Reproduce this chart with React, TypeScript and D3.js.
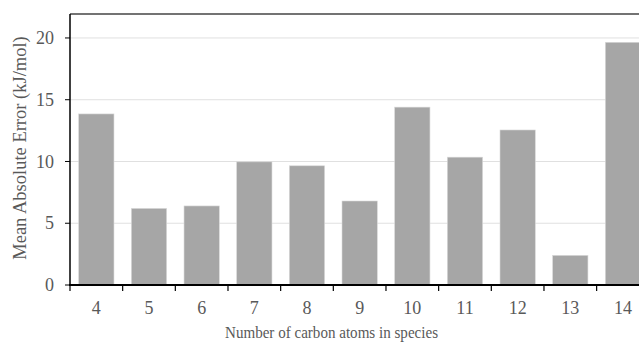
import React from "react";
import * as d3 from "d3";

const categories = ["4", "5", "6", "7", "8", "9", "10", "11", "12", "13", "14"];
const values = [13.85, 6.2, 6.4, 9.97, 9.65, 6.8, 14.4, 10.35, 12.55, 2.4, 19.65];
const yTicks = [0, 5, 10, 15, 20];
const xTitle = "Number of carbon atoms in species";
const yTitle = "Mean Absolute Error (kJ/mol)";

export default function App() {
  const W = 639, H = 342;
  const left = 70, right = 649.3, top = 14, bottom = 285;
  const x = d3.scaleBand<string>().domain(categories).range([left, right]).paddingInner(0.33).paddingOuter(0.165);
  const xb = d3.scaleBand<string>().domain(categories).range([left, right]);
  const y = d3.scaleLinear().domain([0, 21.94]).range([bottom, top]);
  const fontStyle = { fontFamily: "Liberation Serif, Times New Roman, Times, serif" };
  const textColor = "#595959";
  const boundaries = categories.map((c) => xb(c)!).concat([right]);
  return (
    <div style={{ position: "fixed", left: 0, top: 0, width: W, height: H, overflow: "hidden", background: "#fff" }}>
      <svg width={W} height={H} style={{ display: "block", ...fontStyle }}>
        {yTicks.filter((t) => t > 0).map((t) => (
          <line key={"g" + t} x1={left} x2={right} y1={y(t)} y2={y(t)} stroke="#e0e0e0" strokeWidth={1} />
        ))}
        {categories.map((c, i) => (
          <rect key={c} x={x(c)} y={y(values[i])} width={x.bandwidth()} height={bottom - y(values[i])} fill="#a6a6a6" stroke="#d9d9d9" strokeWidth={0.6} />
        ))}
        <line x1={left} x2={right} y1={top} y2={top} stroke="#444" strokeWidth={1.5} />
        <line x1={left} x2={left} y1={top} y2={bottom} stroke="#000" strokeWidth={1.5} />
        {yTicks.map((t) => (
          <g key={"yt" + t}>
            <line x1={left - 5} x2={left} y1={y(t)} y2={y(t)} stroke="#000" strokeWidth={1} />
            <text x={left - 16} y={y(t)} dy="0.34em" textAnchor="end" style={fontStyle} fontSize={18} fill={textColor}>{t}</text>
          </g>
        ))}
        <line x1={left - 1} x2={right} y1={bottom} y2={bottom} stroke="#000" strokeWidth={2.2} />
        {boundaries.map((b, i) => (
          <line key={"xt" + i} x1={b} x2={b} y1={bottom} y2={bottom + 6} stroke="#000" strokeWidth={1.2} />
        ))}
        {categories.map((c) => (
          <text key={"xl" + c} x={x(c)! + x.bandwidth() / 2} y={314} textAnchor="middle" style={fontStyle} fontSize={18} fill={textColor}>{c}</text>
        ))}
        <text x={225} y={338} textLength={213} lengthAdjust="spacingAndGlyphs" style={fontStyle} fontSize={16} fill={textColor}>{xTitle}</text>
        <text transform={`translate(26,148) rotate(-90)`} textAnchor="middle" style={fontStyle} fontSize={18.5} fill={textColor}>{yTitle}</text>
      </svg>
    </div>
  );
}
